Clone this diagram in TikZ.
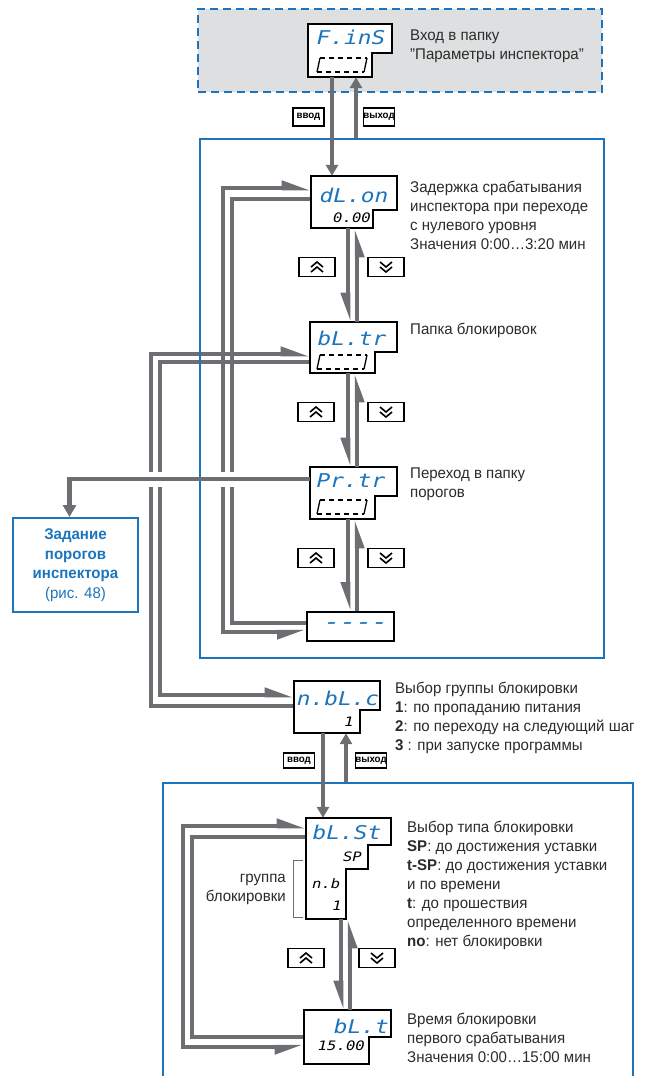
\documentclass[tikz,border=0pt]{standalone}
\usepackage{fontspec}
\setmainfont{Liberation Sans}[FakeStretch=0.97]
\newfontfamily\segfont{DejaVu Sans Mono Oblique}[FakeStretch=1.2]
\usetikzlibrary{arrows.meta, fit}
\definecolor{owenblue}{HTML}{1C75BC}
\definecolor{linegrey}{HTML}{6D6E71}
\definecolor{foldgrey}{HTML}{DEDFE0}
\definecolor{txtgrey}{HTML}{2B2B2B}
\pgfdeclarelayer{back}
\pgfsetlayers{back,main}

\begin{document}
\begin{tikzpicture}[x=1pt, y=-1pt, every node/.style={font=\fontsize{15.5}{19}\selectfont},
  frame/.style={draw=owenblue, line width=2pt, inner sep=0},
  fold/.style={frame, fill=foldgrey, dash pattern=on 8pt off 5pt},
  disp/.style={draw, line width=1.8pt, fill=white},
  hull/.style={inner sep=0},
  code/.style={text=owenblue, inner sep=0, font=\segfont\fontsize{19}{19}\selectfont},
  val/.style={inner sep=0, font=\segfont\fontsize{13}{13}\selectfont},
  gline/.style={draw=linegrey, line width=4.5pt},
  gap/.style={draw=white, line width=15pt},
  feed/.style={draw=linegrey, line width=4pt, -{Triangle[length=11pt, width=12pt]}},
  key/.style={draw, line width=1.4pt, minimum width=36pt, minimum height=19pt, inner sep=0},
  upkey/.style={key, path picture={
    \draw[line width=1.6pt] ([xshift=-6pt]path picture bounding box.center) -- ++(6pt,5pt) -- ++(6pt,-5pt)
      ([xshift=-6pt,yshift=-5pt]path picture bounding box.center) -- ++(6pt,5pt) -- ++(6pt,-5pt);}},
  downkey/.style={key, path picture={
    \draw[line width=1.6pt] ([xshift=-6pt]path picture bounding box.center) -- ++(6pt,-5pt) -- ++(6pt,5pt)
      ([xshift=-6pt,yshift=5pt]path picture bounding box.center) -- ++(6pt,-5pt) -- ++(6pt,5pt);}},
  tag/.style={draw, line width=1.3pt, minimum width=31pt, minimum height=18pt, inner sep=0, font=\bfseries\fontsize{10}{10}\selectfont},
  desc/.style={anchor=north west, align=left, inner sep=0, text=txtgrey},
  thrbox/.style={frame, text=owenblue, align=center, minimum width=125pt, minimum height=94pt, font=\fontsize{15.5}{19.5}\selectfont},
  barbl/.tip={Triangle[harpoon, length=22pt, width=14pt]},
  barbr/.tip={Triangle[harpoon, swap, length=22pt, width=14pt]},
  folder/.pic={
    \draw[line width=1.3pt, dash pattern=on 5pt off 4pt] (-22,-7) -- (25,-7) (-25,7) -- (22,7);
    \draw[line width=1.3pt] (-22,-7) -- (-25,7) (25,-7) -- (22,7);}]
  \useasboundingbox (0,0) rectangle (646,1076);

  % frames
  \node[frame, fit={(200,139) (604,658)}] (mid) {};
  \node[frame, fit={(163,783) (633,1078)}] (low) {};

  % displays
  \draw[disp] (308,24) -| (392,53) -| (372,77) -- (308,77) -- cycle;
  \node[hull, fit={(308,24) (392,77)}] (fins) {};
  \node[code] (fins-c) at (351,37) {F.inS};
  \pic at (342,65) {folder};

  \draw[disp] (311,176) -| (397,210) -| (373,228) -- (311,228) -- cycle;
  \node[hull, fit={(311,176) (397,228)}] (dlon) {};
  \node[code] (dlon-c) at (354,195) {dL.on};
  \node[val, anchor=east] (dlon-v) at (371,218) {0.00};

  \draw[disp] (310,322) -| (397,352) -| (375,373) -- (310,373) -- cycle;
  \node[hull, fit={(310,322) (397,373)}] (bltr) {};
  \node[code] (bltr-c) at (352,338) {bL.tr};
  \pic at (342,362) {folder};

  \draw[disp] (310,467) -| (397,496) -| (375,519) -- (310,519) -- cycle;
  \node[hull, fit={(310,467) (397,519)}] (prtr) {};
  \node[code] (prtr-c) at (351,481) {Pr.tr};
  \pic at (342,507) {folder};

  \node[disp, minimum width=87pt, minimum height=29pt] (dash) at (350.5,626.5) {};
  \node[code, font=\segfont\fontsize{22}{22}\selectfont] (dash-c) at (356,626.5) {----};

  \draw[disp] (294,681) -| (380,710) -| (360,733) -- (294,733) -- cycle;
  \node[hull, fit={(294,681) (380,733)}] (nblc) {};
  \node[code] (nblc-c) at (338,698) {n.bL.c};
  \node[val, anchor=east] (nblc-v) at (354,722) {1};

  \draw[disp] (306,818) -| (391,845) -| (368,869) -| (346,919) -- (306,919) -- cycle;
  \node[hull, fit={(306,818) (391,919)}] (blst) {};
  \node[code] (blst-c) at (347,832) {bL.St};
  \node[val, anchor=east] (blst-sp) at (362,857) {SP};
  \node[val, anchor=west] (blst-nb) at (312,884) {n.b};
  \node[val, anchor=east] (blst-g) at (342,906) {1};

  \draw[disp] (304,1010) -| (391,1037) -| (369,1064) -- (304,1064) -- cycle;
  \node[hull, fit={(304,1010) (391,1064)}] (blt) {};
  \node[code, anchor=east] (blt-c) at (389,1026) {bL.t};
  \node[val, anchor=east] (blt-v) at (365,1046) {15.00};

  \node[thrbox] (thr) at (75.5,565) {\textbf{Задание}\\\textbf{порогов}\\\textbf{инспектора}\\(рис. 48)};

  % loops behind the displays
  \begin{pgfonlayer}{back}
    \node[fold, fit={(198,9) (602,92)}] (parent) {};
    \draw[gline, barbl-barbr] (dlon.west |- 0,188) -| (223,632) -- (dash.west |- 0,632);
    \draw[gline] (dlon.west |- 0,199) -| (232,623) -- (dash.west |- 0,623);
    \draw[gline, -barbl] (nblc.west |- 0,706) -| (151,354) -- (bltr.west |- 0,354);
    \draw[gline, -barbl] (bltr.west |- 0,362) -| (160,695) -- (nblc.west |- 0,695);
    \draw[gline, barbl-barbr] (blst.west |- 0,826) -| (183,1047) -- (blt.west |- 0,1047);
    \draw[gline] (blst.west |- 0,837) -| (192,1037) -- (blt.west |- 0,1037);
    \draw[gap] (prtr.west |- 0,479) -- (thr.north |- 0,479);
  \end{pgfonlayer}

  % up and down
  \draw[gline, -barbr] (dlon.south -| 348,0) -- (bltr.north -| 348,0);
  \draw[gline, -barbr] (bltr.north -| 357,0) -- (dlon.south -| 357,0);
  \draw[gline, -barbr] (bltr.south -| 348,0) -- (prtr.north -| 348,0);
  \draw[gline, -barbr] (prtr.north -| 357,0) -- (bltr.south -| 357,0);
  \draw[gline, -barbr] (prtr.south -| 348,0) -- (dash.north -| 348,0);
  \draw[gline, -barbr] (dash.north -| 357,0) -- (prtr.south -| 357,0);
  \draw[gline, -barbr] (blst.south -| 341,0) -- (blt.north -| 341,0);
  \draw[gline, -barbr] (blt.north -| 350,0) -- (blst.south -| 350,0);
  \draw[gline, -{Triangle[length=12pt, width=13pt]}] (prtr.west |- 0,479) -| ([xshift=-6pt]thr.north);

  % enter and exit
  \draw[feed] (fins.south -| 332,0) -- (dlon.north -| 332,0);
  \draw[feed] (mid.north -| 356,0) -- (fins.south -| 356,0);
  \draw[feed] (nblc.south -| 323,0) -- (blst.north -| 323,0);
  \draw[feed] (low.north -| 346,0) -- (nblc.south -| 346,0);
  \node[tag] (in1) at (308.5,117) {ввод};
  \node[tag] (out1) at (379,117) {выход};
  \node[tag, minimum height=15pt] (in2) at (299,760.5) {ввод};
  \node[tag, minimum height=15pt] (out2) at (371,760.5) {выход};

  % keys
  \node[upkey] (up1) at (317,267) {};
  \node[downkey] (dn1) at (386,267) {};
  \node[upkey] (up2) at (316,412) {};
  \node[downkey] (dn2) at (386,412) {};
  \node[upkey] (up3) at (316,558) {};
  \node[downkey] (dn3) at (386,558) {};
  \node[upkey] (up4) at (306,958) {};
  \node[downkey] (dn4) at (377,958) {};

  % texts
  \node[desc] (parent-d) at (410,29.5) {Вход в папку\\"Параметры инспектора"};
  \node[desc] (dlon-d) at (410,181) {Задержка срабатывания\\инспектора при переходе\\с нулевого уровня\\Значения 0:00…3:20 мин};
  \node[desc] (bltr-d) at (410,323) {Папка блокировок};
  \node[desc] (prtr-d) at (410,468) {Переход в папку\\порогов};
  \node[desc] (nblc-d) at (395,682) {Выбор группы блокировки\\\textbf{1}: по пропаданию питания\\\textbf{2}: по переходу на следующий шаг\\\textbf{3} : при запуске программы};
  \node[desc] (blst-d) at (407,821) {Выбор типа блокировки\\\textbf{SP}: до достижения уставки\\\textbf{t-SP}: до достижения уставки\\и по времени\\\textbf{t}: до прошествия\\определенного времени\\\textbf{no}: нет блокировки};
  \node[desc] (blt-d) at (407,1013) {Время блокировки\\первого срабатывания\\Значения 0:00…15:00 мин};
  \node[anchor=east, align=right, inner sep=0, text=txtgrey] (grp) at (286,889) {группа\\блокировки};
  \draw[linegrey, line width=0.8pt] (303,860) -| (293,917) -- (303,917);
\end{tikzpicture}
\end{document}
